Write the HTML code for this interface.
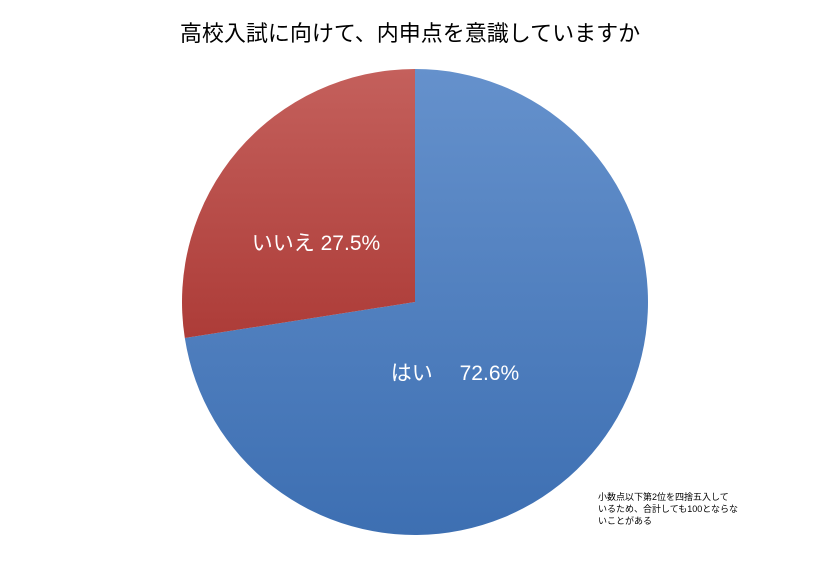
<!DOCTYPE html>
<html><head><meta charset="utf-8"><style>
body{margin:0;background:#fff;width:820px;height:563px;overflow:hidden;font-family:"Liberation Sans","Noto Sans CJK JP",sans-serif}
</style></head><body>
<svg width="820" height="563">
<defs>
<linearGradient id="gb" x1="0" y1="0" x2="0" y2="1"><stop offset="0" stop-color="#6591cc"/><stop offset="1" stop-color="#3d6fb2"/></linearGradient>
<linearGradient id="gr" x1="0" y1="0" x2="0" y2="1"><stop offset="0" stop-color="#c4605c"/><stop offset="1" stop-color="#ad3c38"/></linearGradient>
</defs>
<text x="410" y="41" text-anchor="middle" font-size="22" fill="#000">高校入試に向けて、内申点を意識していますか</text>
<g id="slices"></g>
<text x="598" y="500" font-size="9" fill="#000"><tspan x="598">小数点以下第2位を四捨五入して</tspan><tspan x="598" dy="12">いるため、合計しても100とならな</tspan><tspan x="598" dy="12">いことがある</tspan></text>
</svg>
<script>
const labels=["はい","いいえ"];
const values=[72.6,27.5];
const fills=["url(#gb)","url(#gr)"];
const cx=415,cy=302,r=233;
const g=document.getElementById('slices');
const total=values.reduce((a,b)=>a+b,0);
const ns="http://www.w3.org/2000/svg";
let a0=0;
const lab=[[455,380],[316,248]];
values.forEach((v,i)=>{
  const a1=a0+v/total*2*Math.PI;
  const p=(a)=>[cx+r*Math.sin(a),cy-r*Math.cos(a)];
  const [x0,y0]=p(a0),[x1,y1]=p(a1);
  const path=document.createElementNS(ns,'path');
  path.setAttribute('d',`M${cx},${cy}L${x0},${y0}A${r},${r} 0 ${a1-a0>Math.PI?1:0} 1 ${x1},${y1}Z`);
  path.setAttribute('fill',fills[i]);
  
  
  g.appendChild(path);
  const mid=(a0+a1)/2;
  const t=document.createElementNS(ns,'text');
  t.setAttribute('x',i===0?455:316);
  t.setAttribute('y',i===0?380:250);
  t.setAttribute('text-anchor','middle');
  t.setAttribute('font-size','21');
  t.setAttribute('fill','#fff');
  
  
  t.textContent=labels[i]+(i===0?'　 ':' ')+v.toFixed(1)+'%';
  g.appendChild(t);
  a0=a1;
});
</script>
</body></html>
